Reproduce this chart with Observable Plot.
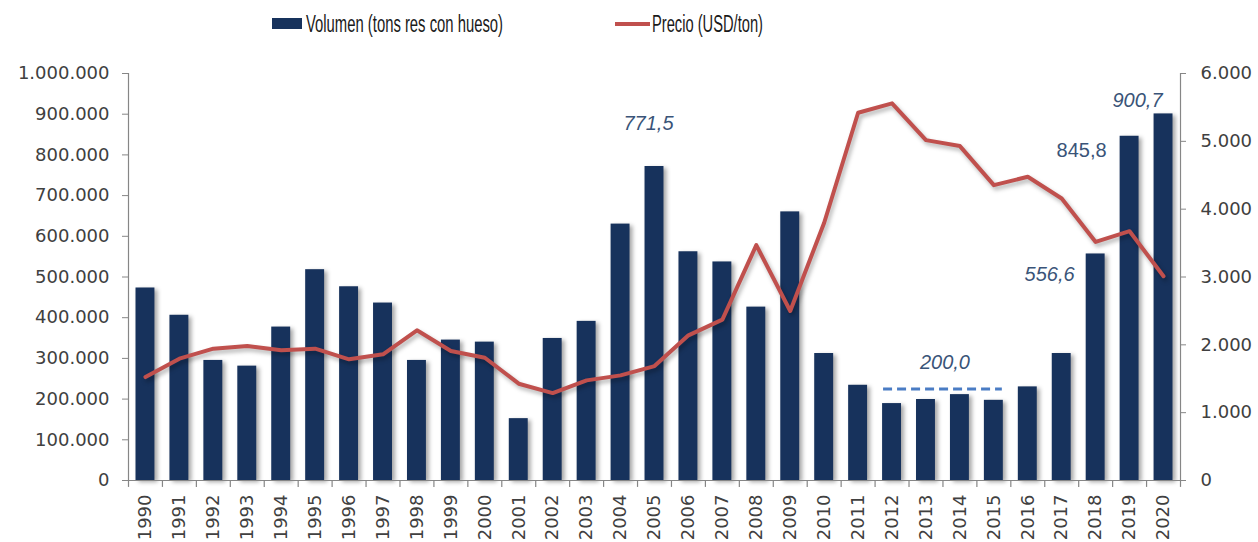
<!DOCTYPE html>
<html>
<head>
<meta charset="utf-8">
<script src="https://cdn.jsdelivr.net/npm/d3@7"></script>
<script src="https://cdn.jsdelivr.net/npm/@observablehq/plot@0.6"></script>
<style>
  html, body { margin: 0; padding: 0; background: #fff; }
  #wrap { width: 1258px; height: 542px; position: relative; overflow: hidden; }
  #legend { display: block; }
</style>
</head>
<body>
<div id="wrap">
  <svg id="legend" width="1258" height="45" xmlns="http://www.w3.org/2000/svg"></svg>
  <div id="chart"></div>
</div>
<script>
// ---------- data ----------
const years = [1990,1991,1992,1993,1994,1995,1996,1997,1998,1999,2000,2001,2002,2003,2004,2005,2006,2007,2008,2009,2010,2011,2012,2013,2014,2015,2016,2017,2018,2019,2020];
const volumen = [473000,406000,295000,281000,377000,518000,476000,436000,295000,345000,340000,152000,349000,391000,630000,771500,562000,537000,426000,660000,312000,234000,189000,199000,211000,197000,230000,312000,556600,845800,900700];
const precio = [1525,1796,1944,1982,1919,1944,1786,1860,2214,1909,1810,1427,1289,1476,1550,1687,2140,2372,3469,2499,3800,5421,5560,5018,4930,4354,4477,4158,3517,3675,3011];
const leftTicks = [0,100000,200000,300000,400000,500000,600000,700000,800000,900000,1000000];
const rightTicks = [0,1000,2000,3000,4000,5000,6000];
const seriesNames = ["Volumen (tons res con hueso)", "Precio (USD/ton)"];
const promedioYears = [2012, 2015];
const promedioValue = 200000;
const promedioLabel = "200,0";

// ---------- helpers ----------
const loc = d3.formatLocale({decimal: ",", thousands: ".", grouping: [3], currency: ["", ""]});
const fmt = loc.format(",");
const K = 1000000 / 6000; // price -> volume axis units
const rows = years.map((y, i) => ({year: y, vol: volumen[i], price: precio[i] * K}));
const byYear = Object.fromEntries(rows.map(r => [r.year, r]));

const BAR = "#17325c";
const LINE = "#c0504d";
const ANN = "#3a5478";
const AXIS = "#868686";
const TXT = "#404040";

// ---------- legend ----------
const lg = document.getElementById("legend");
lg.innerHTML = `
  <rect x="272" y="18" width="30" height="11" fill="${BAR}"/>
  <text x="306" y="32" font-family="Liberation Sans" font-size="23" fill="#1a1a1a" textLength="197" lengthAdjust="spacingAndGlyphs">${seriesNames[0]}</text>
  <line x1="615" x2="650" y1="24" y2="24" stroke="${LINE}" stroke-width="4"/>
  <text x="652" y="32" font-family="Liberation Sans" font-size="23" fill="#1a1a1a" textLength="111" lengthAdjust="spacingAndGlyphs">${seriesNames[1]}</text>
`;

// ---------- chart ----------
const W = 1258, H = 497, ML = 128, MR = 78, MT = 28, MB = 62;
const boundaries = years.map(y => y - 0.5).concat([years[years.length - 1] + 0.5]);

const chart = Plot.plot({
  width: W,
  height: H,
  marginLeft: ML,
  marginRight: MR,
  marginTop: MT,
  marginBottom: MB,
  style: {fontFamily: "DejaVu Sans", fontSize: "18px", color: TXT, background: "#fff"},
  x: {type: "linear", domain: [years[0] - 0.5, years[years.length - 1] + 0.5], axis: null},
  y: {domain: [0, 1000000], axis: null},
  marks: [
    // bars
    Plot.rectY(rows, {x1: d => d.year - 0.5, x2: d => d.year + 0.5, y: "vol", fill: BAR, insetLeft: 7.5, insetRight: 7.5}),
    // axis frame lines
    Plot.ruleX([years[0] - 0.5, years[years.length - 1] + 0.5], {stroke: AXIS, strokeWidth: 1.2}),
    Plot.ruleY([0], {stroke: AXIS, strokeWidth: 1.2}),
    // x ticks at category boundaries
    Plot.ruleX(boundaries, {y1: 0, y2: -17000, stroke: AXIS, strokeWidth: 1.2}),
    // price line
    Plot.line(rows, {x: "year", y: "price", stroke: LINE, strokeWidth: 4, strokeLinejoin: "round", strokeLinecap: "round"}),
    // average dashed line
    Plot.ruleY([promedioValue], {x1: promedioYears[0] - 0.25, x2: promedioYears[1] + 0.25, dy: -10, stroke: "#4a7cc4", strokeWidth: 3, strokeDasharray: "9,5"}),
    Plot.text([promedioLabel], {x: (promedioYears[0] + promedioYears[1]) / 2, y: promedioValue, dy: -37, dx: 2, text: d => d, fill: ANN, fontStyle: "italic", fontSize: 20, fontFamily: "Liberation Sans"}),
    // annotations
    Plot.text([byYear[2005]], {x: "year", y: "vol", text: d => "771,5", dx: -6, dy: -43, fill: ANN, fontStyle: "italic", fontSize: 20, fontFamily: "Liberation Sans"}),
    Plot.text([byYear[2018]], {x: "year", y: "vol", text: d => "556,6", dx: -21, dy: 21, textAnchor: "end", fill: ANN, fontStyle: "italic", fontSize: 20, fontFamily: "Liberation Sans"}),
    Plot.text([byYear[2019]], {x: "year", y: "vol", text: d => "845,8", dx: -23, dy: 14, textAnchor: "end", fill: ANN, fontSize: 20, fontFamily: "Liberation Sans"}),
    Plot.text([byYear[2020]], {x: "year", y: "vol", text: d => "900,7", dx: -1, dy: -13, textAnchor: "end", fill: ANN, fontStyle: "italic", fontSize: 20, fontFamily: "Liberation Sans"}),
    // axes
    Plot.axisY(leftTicks, {anchor: "left", label: null, tickFormat: fmt, tickSize: 6, tickPadding: 13, stroke: AXIS, fill: TXT, fontSize: 18}),
    Plot.axisY(rightTicks.map(v => v * K), {anchor: "right", label: null, tickFormat: d => fmt(Math.round(d / K)), tickSize: 5, tickPadding: 15, stroke: AXIS, fill: TXT, fontSize: 18}),
    Plot.axisX(years, {anchor: "bottom", label: null, tickSize: 0, tickPadding: 14, tickRotate: -90, tickFormat: d => String(d), fill: TXT, fontSize: 18})
  ]
});
document.getElementById("chart").appendChild(chart);

// soft shadows like the original
const barsG = chart.querySelector('g[aria-label="rect"]');
if (barsG) barsG.style.filter = "drop-shadow(3px 2px 2px rgba(0,0,0,0.35))";
const lineG = chart.querySelector('g[aria-label="line"]');
if (lineG) lineG.style.filter = "drop-shadow(2px 3px 2px rgba(0,0,0,0.3))";
</script>
</body>
</html>
